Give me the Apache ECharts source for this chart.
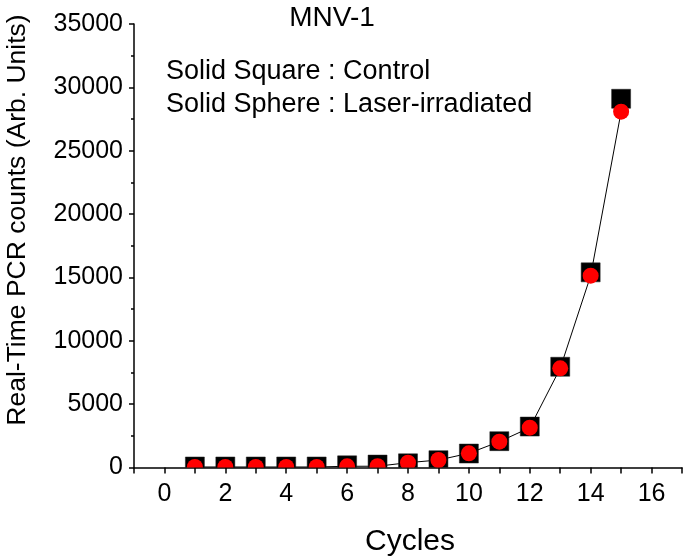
<!DOCTYPE html>
<html><head><meta charset="utf-8">
<script src="https://cdn.jsdelivr.net/npm/echarts@6/dist/echarts.min.js"></script>
<style>html,body{margin:0;padding:0;background:#fff}#c{width:685px;height:559px}</style>
</head><body><div id="c"></div>
<script>
// ---- data ----
const cycles = [1, 2, 3, 4, 5, 6, 7, 8, 9, 10, 11, 12, 13, 14, 15];
const controlCounts = [80, 80, 80, 80, 80, 170, 230, 330, 580, 1100, 2080, 3230, 7950, 15400, 29100];
const laserCounts = [40, 40, 40, 40, 40, 95, 100, 380, 590, 1120, 2040, 3140, 7830, 15140, 28080];
const xLabelValues = [0, 2, 4, 6, 8, 10, 12, 14, 16];
const yLabelValues = [0, 5000, 10000, 15000, 20000, 25000, 30000, 35000];
const titleText = 'MNV-1';
const noteLines = ['Solid Square : Control', 'Solid Sphere : Laser-irradiated'];
const xName = 'Cycles';
const yName = 'Real-Time PCR counts (Arb. Units)';

const FONT = "'Liberation Sans', Arial, Helvetica, sans-serif";
const chart = echarts.init(document.getElementById('c'), null, {renderer: 'canvas'});

const controlData = cycles.map((c, i) => [c, controlCounts[i]]);
const laserData = cycles.map((c, i) => [c, laserCounts[i]]);

function squareItem(params, api) {
  const p = api.coord([api.value(0), api.value(1)]);
  const s = 19;
  return {type: 'rect', shape: {x: p[0] - s / 2, y: p[1] - s / 2, width: s, height: s},
          style: {fill: '#000000', stroke: '#222', lineWidth: 0.5}};
}
function circleItem(params, api) {
  const p = api.coord([api.value(0), api.value(1)]);
  return {type: 'circle', shape: {cx: p[0], cy: p[1], r: 8}, style: {fill: '#ff0000'}};
}

const option = {
  backgroundColor: '#ffffff',
  animation: false,
  textStyle: {fontFamily: FONT},
  grid: {left: 134, right: 0, top: 24, bottom: 91.5, containLabel: false},
  xAxis: {
    type: 'value', min: -1, max: 17, interval: 1,
    axisLine: {show: true, onZero: false, lineStyle: {color: '#000', width: 1.5}},
    axisTick: {show: true, length: 6, lineStyle: {color: '#000', width: 1.5}},
    axisLabel: {
      show: true, margin: 14, color: '#000', fontSize: 25, fontFamily: FONT,
      formatter: v => (xLabelValues.indexOf(v) >= 0 ? String(v) : '')
    },
    splitLine: {show: false}
  },
  yAxis: {
    type: 'value', min: 0, max: 35000, interval: 5000,
    axisLine: {show: true, onZero: false, lineStyle: {color: '#000', width: 1.5}},
    axisTick: {show: true, length: 5, lineStyle: {color: '#000', width: 1.5}},
    minorTick: {show: true, splitNumber: 2, length: 3, lineStyle: {color: '#000', width: 1.5}},
    axisLabel: {
      show: true, margin: 11, color: '#000', fontSize: 25, fontFamily: FONT,
      formatter: v => (yLabelValues.indexOf(v) >= 0 ? String(v) : '')
    },
    splitLine: {show: false}
  },
  series: [
    {
      type: 'line', data: laserData, showSymbol: false, symbol: 'none', z: 2,
      lineStyle: {color: '#000', width: 1}, silent: true
    },
    {type: 'custom', data: controlData, renderItem: squareItem, clip: true, z: 3, silent: true},
    {type: 'custom', data: laserData, renderItem: circleItem, clip: true, z: 4, silent: true}
  ],
  graphic: [
    {type: 'text', x: 332, y: 18, style: {text: titleText, fill: '#000', font: '28px ' + FONT, textAlign: 'center', textVerticalAlign: 'middle'}},
    {type: 'text', x: 166, y: 72, style: {text: noteLines[0], fill: '#000', font: '27px ' + FONT, textAlign: 'left', textVerticalAlign: 'middle'}},
    {type: 'text', x: 166, y: 105, style: {text: noteLines[1], fill: '#000', font: '27px ' + FONT, textAlign: 'left', textVerticalAlign: 'middle'}},
    {type: 'text', x: 410, y: 542, style: {text: xName, fill: '#000', font: '30px ' + FONT, textAlign: 'center', textVerticalAlign: 'middle'}},
    {type: 'text', x: 18, y: 220, rotation: Math.PI / 2, style: {text: yName, fill: '#000', font: '26.5px ' + FONT, textAlign: 'center', textVerticalAlign: 'middle'}}
  ]
};
chart.setOption(option);
</script>
</body></html>
